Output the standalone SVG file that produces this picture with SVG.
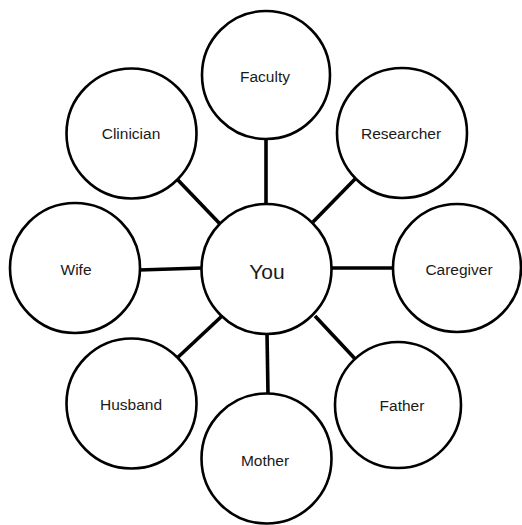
<svg xmlns="http://www.w3.org/2000/svg" width="522" height="525" viewBox="0 0 522 525">
<style>
.n{fill:#fff;stroke:#000;stroke-width:2.6}
.t{font-family:"Liberation Sans",Arial,sans-serif;font-size:15.5px;fill:#1a1a1a;text-anchor:middle}
.big{font-size:21px}
.c line{stroke:#000;stroke-width:3.6;stroke-linecap:butt}
</style>
<rect width="522" height="525" fill="#fff"/>
<g id="connectors" class="c">
<line x1="176" y1="178" x2="221" y2="225"/>
<line x1="266" y1="139" x2="266" y2="204"/>
<line x1="356" y1="178" x2="313" y2="222"/>
<line x1="139" y1="270" x2="202" y2="268"/>
<line x1="331" y1="268" x2="394" y2="268"/>
<line x1="175" y1="360" x2="222" y2="316"/>
<line x1="267" y1="333" x2="268" y2="394"/>
<line x1="315" y1="316" x2="358" y2="362"/>
</g>
<g id="you"><circle class="n" cx="266.5" cy="269" r="65"/><text class="t big" x="267" y="279">You</text></g>
<g id="faculty"><circle class="n" cx="266" cy="75" r="64"/><text class="t" x="265" y="82">Faculty</text></g>
<g id="clinician"><circle class="n" cx="131.5" cy="133.5" r="65"/><text class="t" x="131" y="139">Clinician</text></g>
<g id="researcher"><circle class="n" cx="402" cy="133" r="65"/><text class="t" x="401" y="139">Researcher</text></g>
<g id="wife"><circle class="n" cx="75" cy="268" r="65"/><text class="t" x="76" y="275">Wife</text></g>
<g id="caregiver"><circle class="n" cx="457" cy="268" r="64"/><text class="t" x="459" y="275">Caregiver</text></g>
<g id="husband"><circle class="n" cx="131.5" cy="403.5" r="65"/><text class="t" x="131" y="410">Husband</text></g>
<g id="mother"><circle class="n" cx="266.5" cy="458.5" r="65"/><text class="t" x="265" y="466">Mother</text></g>
<g id="father"><circle class="n" cx="398" cy="405" r="63"/><text class="t" x="402" y="411">Father</text></g>
</svg>
